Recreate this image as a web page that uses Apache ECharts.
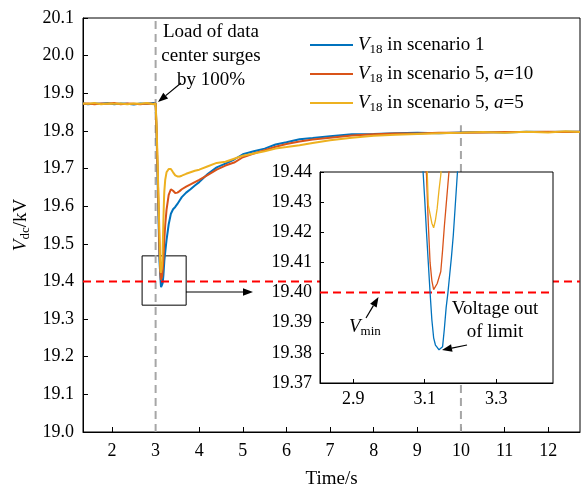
<!DOCTYPE html>
<html>
<head>
<meta charset="utf-8">
<script src="https://cdn.jsdelivr.net/npm/echarts@6/dist/echarts.min.js"></script>
<style>
  html, body { margin: 0; padding: 0; background: #fff; }
  #chart { width: 581px; height: 488px; }
</style>
</head>
<body>
<div id="chart"></div>
<script>
// Time stamps (s), shared by the three voltage traces
const timeS = [
  1.335, 1.45, 1.6, 1.75, 1.9, 2.05, 2.2, 2.35, 2.5, 2.65, 2.8, 2.95, 3.0,
  3.02, 3.04, 3.06, 3.08,
  3.090, 3.095, 3.100, 3.105, 3.110, 3.115, 3.120, 3.125, 3.130, 3.135, 3.140, 3.145,
  3.150, 3.155, 3.160, 3.165, 3.170, 3.175, 3.180, 3.185, 3.190, 3.195, 3.200,
  3.22, 3.25, 3.30, 3.35, 3.40, 3.45, 3.50, 3.55, 3.60, 3.70, 3.80, 3.90, 4.00,
  4.2, 4.4, 4.6, 4.8, 5.0, 5.25, 5.5, 5.75, 6.0, 6.3, 6.6, 7.0, 7.5, 8.0, 8.5,
  9.0, 9.5, 10.0, 10.5, 11.0, 11.5, 12.0, 12.4, 12.73
];

// V18 (kV), scenario 1
const vScenario1 = [
  19.873, 19.871, 19.873, 19.872, 19.874, 19.871, 19.873, 19.872, 19.870, 19.873, 19.872, 19.874, 19.873,
  19.80, 19.70, 19.60, 19.50,
  19.452, 19.441, 19.431, 19.420, 19.410, 19.400, 19.391, 19.385, 19.3826, 19.3818, 19.381, 19.3806,
  19.382, 19.388, 19.395, 19.400, 19.406, 19.412, 19.419, 19.428, 19.437, 19.446, 19.455,
  19.478, 19.510, 19.552, 19.580, 19.592, 19.598, 19.606, 19.615, 19.624, 19.636, 19.645, 19.655, 19.664,
  19.686, 19.703, 19.713, 19.724, 19.738, 19.746, 19.753, 19.764, 19.770, 19.778, 19.781, 19.786, 19.791,
  19.792, 19.794, 19.795, 19.794, 19.796, 19.797, 19.796, 19.798, 19.797, 19.798, 19.798
];

// V18 (kV), scenario 5 with a = 10
const vScenario5a10 = [
  19.872, 19.873, 19.871, 19.873, 19.872, 19.874, 19.871, 19.873, 19.872, 19.871, 19.873, 19.872, 19.873,
  19.81, 19.72, 19.63, 19.53,
  19.475, 19.462, 19.450, 19.439, 19.423, 19.410, 19.404, 19.401, 19.4015, 19.403, 19.405, 19.407,
  19.414, 19.422, 19.429, 19.436, 19.443, 19.452, 19.462, 19.474, 19.487, 19.500, 19.513,
  19.550, 19.590, 19.630, 19.645, 19.641, 19.635, 19.636, 19.640, 19.645, 19.652, 19.658, 19.664, 19.670,
  19.683, 19.697, 19.708, 19.716, 19.730, 19.740, 19.749, 19.758, 19.765, 19.772, 19.777, 19.782, 19.788,
  19.791, 19.793, 19.793, 19.795, 19.795, 19.796, 19.797, 19.797, 19.798, 19.797, 19.798
];

// V18 (kV), scenario 5 with a = 5
const vScenario5a5 = [
  19.873, 19.872, 19.874, 19.871, 19.873, 19.872, 19.873, 19.871, 19.873, 19.872, 19.874, 19.871, 19.873,
  19.82, 19.74, 19.65, 19.56,
  19.520, 19.495, 19.470, 19.448, 19.429, 19.426, 19.423, 19.4215, 19.424, 19.428, 19.434, 19.439,
  19.448, 19.462, 19.480, 19.500, 19.522, 19.545, 19.568, 19.590, 19.610, 19.627, 19.640,
  19.670, 19.690, 19.699, 19.699, 19.690, 19.682, 19.679, 19.679, 19.681, 19.686, 19.690, 19.694, 19.697,
  19.706, 19.715, 19.718, 19.726, 19.734, 19.740, 19.746, 19.753, 19.757, 19.762, 19.768, 19.775, 19.782,
  19.787, 19.790, 19.792, 19.794, 19.795, 19.797, 19.795, 19.798, 19.796, 19.799, 19.797
];

const seriesNames = ['V18 in scenario 1', 'V18 in scenario 5, a=10', 'V18 in scenario 5, a=5'];
const seriesColors = ['#0072BD', '#D95319', '#EDB120'];
const seriesValues = [vScenario1, vScenario5a10, vScenario5a5];

// Axis ranges and ticks
const mainXRange = [1.335, 12.73];
const mainXTicks = [2, 3, 4, 5, 6, 7, 8, 9, 10, 11, 12];
const mainYRange = [19.0, 20.1];
const mainYTicks = [19.0, 19.1, 19.2, 19.3, 19.4, 19.5, 19.6, 19.7, 19.8, 19.9, 20.0, 20.1];
const zoomXRange = [2.807, 3.459];
const zoomXTicks = [2.9, 3.1, 3.3];
const zoomYRange = [19.37, 19.44];
const zoomYTicks = [19.37, 19.38, 19.39, 19.40, 19.41, 19.42, 19.43, 19.44];

const V_MIN = 19.4;          // lower voltage limit (kV)
const T_SURGE = 3;           // time of the load surge (s)
const T_SETTLED = 10;        // marker of the settled state (s)
const V_SETTLED_MARK = 19.815;
const zoomBox = [[2.69, 19.468], [3.70, 19.337]];

const FONT = "'Liberation Serif', 'Times New Roman', serif";
const chart = echarts.init(document.getElementById('chart'), null, { renderer: 'canvas' });

const pairs = (vals) => timeS.map((t, i) => [t, vals[i]]);

const richBase = {
  n: { fontFamily: FONT, fontSize: 19, color: '#000', lineHeight: 22 },
  i: { fontFamily: FONT, fontSize: 19, fontStyle: 'italic', color: '#000', lineHeight: 22 },
  s: { fontFamily: FONT, fontSize: 13, color: '#000', lineHeight: 11, verticalAlign: 'bottom' }
};

function legendLabel(name) {
  if (name === seriesNames[0]) return '{i|V}{s|18}{n| in scenario 1}';
  if (name === seriesNames[1]) return '{i|V}{s|18}{n| in scenario 5, }{i|a}{n|=10}';
  return '{i|V}{s|18}{n| in scenario 5, }{i|a}{n|=5}';
}

// annotation arrow: shaft plus filled head, drawn above everything
function arrow(x1, y1, x2, y2) {
  const a = Math.atan2(y2 - y1, x2 - x1);
  const L = 10, W = 3.8;
  const bx = x2 - L * Math.cos(a), by = y2 - L * Math.sin(a);
  return {
    type: 'group', z: 100,
    children: [
      { type: 'line', z: 100, shape: { x1: x1, y1: y1, x2: bx, y2: by }, style: { stroke: '#000', lineWidth: 1.2 } },
      { type: 'polygon', z: 100, shape: { points: [[x2, y2], [bx - W * Math.sin(a), by + W * Math.cos(a)], [bx + W * Math.sin(a), by - W * Math.cos(a)]] },
        style: { fill: '#000' } }
    ]
  };
}

const tickLabel = (digits) => ({
  fontFamily: FONT, fontSize: 18, color: '#000',
  formatter: (v) => Number(v).toFixed(digits)
});

const series = [];
// main traces
seriesValues.forEach((vals, k) => {
  series.push({
    name: seriesNames[k], type: 'line', xAxisIndex: 0, yAxisIndex: 0,
    data: pairs(vals), showSymbol: false, symbol: 'none', z: 3 + k,
    lineStyle: { color: seriesColors[k], width: 2 }, itemStyle: { color: seriesColors[k] }
  });
});
// surge instant, settled marker, limit line, zoom region box
series.push({
  type: 'line', xAxisIndex: 0, yAxisIndex: 0, symbol: 'none', silent: true, z: 2,
  data: [[T_SURGE, mainYRange[0]], [T_SURGE, mainYRange[1]]],
  lineStyle: { color: '#A6A6A6', width: 2, type: [8, 5] }
});
series.push({
  type: 'line', xAxisIndex: 0, yAxisIndex: 0, symbol: 'none', silent: true, z: 2,
  data: [[T_SETTLED, mainYRange[0]], [T_SETTLED, V_SETTLED_MARK]],
  lineStyle: { color: '#A6A6A6', width: 2, type: [8, 5] }
});
series.push({
  type: 'line', xAxisIndex: 0, yAxisIndex: 0, symbol: 'none', silent: true, z: 6,
  data: [[mainXRange[0], V_MIN], [mainXRange[1], V_MIN]],
  lineStyle: { color: '#FF0000', width: 2, type: [8, 5] },
  markArea: {
    silent: true,
    itemStyle: { color: 'rgba(0,0,0,0)', borderColor: '#000', borderWidth: 1 },
    data: [[{ coord: zoomBox[0] }, { coord: zoomBox[1] }]]
  }
});
// zoomed traces
series.push({
  type: 'line', xAxisIndex: 1, yAxisIndex: 1, symbol: 'none', silent: true, z: 11,
  data: [[zoomXRange[0], V_MIN], [zoomXRange[1], V_MIN]],
  lineStyle: { color: '#FF0000', width: 2, type: [8, 5] }
});
seriesValues.forEach((vals, k) => {
  series.push({
    name: seriesNames[k], type: 'line', xAxisIndex: 1, yAxisIndex: 1,
    data: pairs(vals), showSymbol: false, symbol: 'none', z: 12 + k, clip: true,
    lineStyle: { color: seriesColors[k], width: 1.3 }, itemStyle: { color: seriesColors[k] }
  });
});

const option = {
  animation: false,
  backgroundColor: '#fff',
  grid: [
    { left: 83, top: 18, right: 1, bottom: 56, outerBoundsMode: 'none', containLabel: false,
      show: true, borderColor: '#000', borderWidth: 1, backgroundColor: 'rgba(0,0,0,0)' },
    { left: 320, top: 172, width: 233, height: 211, outerBoundsMode: 'none', containLabel: false,
      show: true, borderColor: '#000', borderWidth: 1, backgroundColor: '#fff', z: 8 }
  ],
  legend: {
    data: seriesNames, orient: 'vertical', left: 305, top: 29,
    icon: 'rect', itemWidth: 43, itemHeight: 2, itemGap: 7,
    formatter: legendLabel,
    textStyle: { rich: richBase, lineHeight: 22 }
  },
  xAxis: [
    {
      type: 'value', gridIndex: 0, min: mainXRange[0], max: mainXRange[1],
      name: 'Time/s', nameLocation: 'middle', nameGap: 38,
      nameTextStyle: { fontFamily: FONT, fontSize: 19, color: '#000' },
      axisLine: { lineStyle: { color: '#000', width: 1 } },
      axisTick: { inside: true, length: 5, customValues: mainXTicks, lineStyle: { color: '#000' } },
      axisLabel: Object.assign(tickLabel(0), { customValues: mainXTicks, margin: 10 }),
      splitLine: { show: false }
    },
    {
      type: 'value', gridIndex: 1, min: zoomXRange[0], max: zoomXRange[1], z: 10,
      axisLine: { lineStyle: { color: '#000', width: 1 } },
      axisTick: { inside: true, length: 4, customValues: zoomXTicks, lineStyle: { color: '#000' } },
      axisLabel: Object.assign(tickLabel(1), { customValues: zoomXTicks, margin: 7 }),
      splitLine: { show: false }
    }
  ],
  yAxis: [
    {
      type: 'value', gridIndex: 0, min: mainYRange[0], max: mainYRange[1],
      name: '{i|V}{s|dc}{n|/kV}', nameLocation: 'middle', nameGap: 49,
      nameTextStyle: { rich: richBase },
      axisLine: { lineStyle: { color: '#000', width: 1 } },
      axisTick: { inside: true, length: 5, customValues: mainYTicks, lineStyle: { color: '#000' } },
      axisLabel: Object.assign(tickLabel(1), { customValues: mainYTicks, margin: 9 }),
      splitLine: { show: false }
    },
    {
      type: 'value', gridIndex: 1, min: zoomYRange[0], max: zoomYRange[1], z: 10,
      axisLine: { lineStyle: { color: '#000', width: 1 } },
      axisTick: { inside: true, length: 4, customValues: zoomYTicks, lineStyle: { color: '#000' } },
      axisLabel: Object.assign(tickLabel(2), { customValues: zoomYTicks, margin: 8 }),
      splitLine: { show: false }
    }
  ],
  series: series,
  graphic: [
    { type: 'text', z: 100, x: 211, y: 56,
      style: { text: 'Load of data\ncenter surges\nby 100%', font: '19px ' + FONT, fill: '#000',
               align: 'center', verticalAlign: 'middle', lineHeight: 24 } },
    arrow(181, 83, 158, 102),
    arrow(186, 292, 253, 292),
    { type: 'text', z: 100, x: 349, y: 327,
      style: { text: '{i|V}{s|min}', rich: richBase, verticalAlign: 'middle' } },
    arrow(366, 318, 378.5, 297),
    { type: 'text', z: 100, x: 495, y: 321,
      style: { text: 'Voltage out\nof limit', font: '19px ' + FONT, fill: '#000',
               align: 'center', verticalAlign: 'middle', lineHeight: 23 } },
    arrow(467, 345, 442, 350)
  ]
};

chart.setOption(option);
</script>
</body>
</html>
